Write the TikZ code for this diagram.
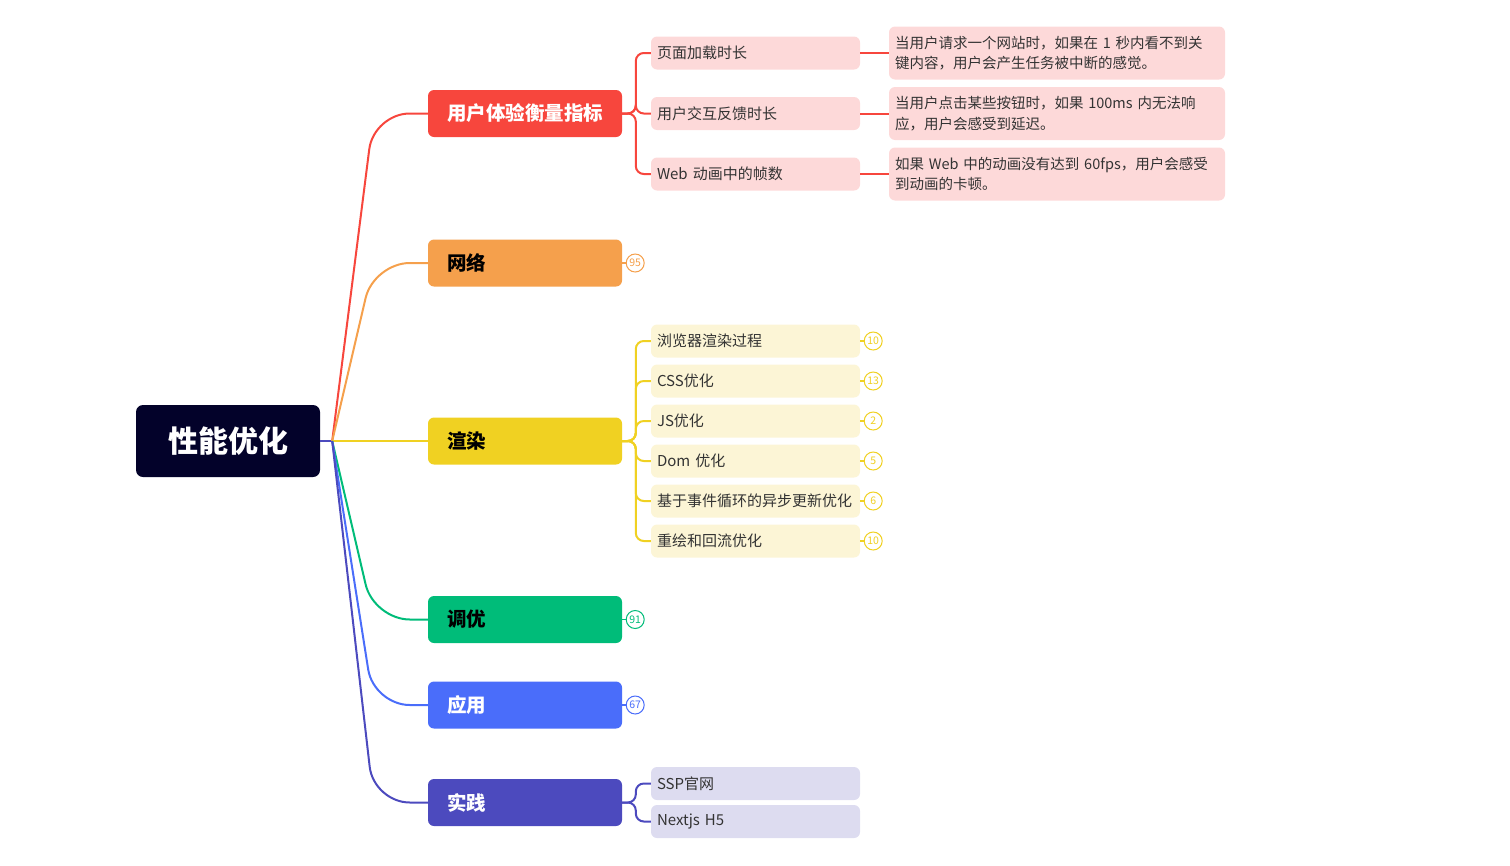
\documentclass[tikz,border=0pt]{standalone}
\usepackage{fontspec}
\setmainfont{Noto Sans CJK SC}
\definecolor{rootc}{HTML}{03022A}
\definecolor{redc}{HTML}{F7463D}
\definecolor{orangec}{HTML}{F5A04C}
\definecolor{yellowc}{HTML}{F0D122}
\definecolor{greenc}{HTML}{00BC79}
\definecolor{bluec}{HTML}{4A6DFA}
\definecolor{indigoc}{HTML}{4C4ABE}
\definecolor{redsub}{HTML}{FDD9D9}
\definecolor{yellowsub}{HTML}{FCF5D6}
\definecolor{indigosub}{HTML}{DDDCF0}
\definecolor{subtext}{HTML}{333333}
\tikzset{
  rootbox/.style={fill=rootc, rounded corners=7pt, minimum width=184pt, minimum height=72pt, text=white, font=\fontsize{30}{34}\selectfont\bfseries, inner sep=0pt},
  branchbox/.style={rounded corners=6pt, minimum height=47pt, text width=156pt, inner xsep=19pt, inner ysep=0pt, align=left, font=\fontsize{19.5}{22}\selectfont\bfseries},
  subbox/.style={rounded corners=6pt, minimum height=33pt, text width=197pt, inner xsep=6pt, inner ysep=0pt, align=left, text=subtext, font=\fontsize{15}{17}\selectfont},
  detailbox/.style={rounded corners=6pt, fill=redsub, minimum height=53pt, text width=324pt, inner xsep=6pt, inner ysep=0pt, align=left, text=subtext, font=\fontsize{14.5}{20.5}\selectfont},
  countc/.style={circle, draw, line width=1pt, fill=white, minimum size=18pt, inner sep=0pt, font=\fontsize{10.5}{11}\selectfont},
  conn/.style={line width=2pt},
  curvelink/.style={conn, rounded corners=36pt},
  bracket/.style={conn, rounded corners=8pt}
}
\begin{document}
\begin{tikzpicture}[x=1pt,y=-1pt]
\useasboundingbox (0,0) rectangle (1510,865);
% root
\node[rootbox] (root) at (228,441) {性能优化};
\coordinate (fan) at ([xshift=12pt]root.east);
% branches
\node[branchbox, fill=redc, text=white] (b1) at (525,113.5) {用户体验衡量指标};
\node[branchbox, fill=orangec, text=black] (b2) at (525,263) {网络};
\node[branchbox, fill=yellowc, text=black] (b3) at (525,441) {渲染};
\node[branchbox, fill=greenc, text=black] (b4) at (525,619.5) {调优};
\node[branchbox, fill=bluec, text=white] (b5) at (525,705) {应用};
\node[branchbox, fill=indigoc, text=white] (b6) at (525,802.5) {实践};
% root connectors
\draw[conn, indigoc] (root.east) -- (fan);
\draw[curvelink, redc] (fan) -- ([xshift=-54pt]b1.west) -- (b1.west);
\draw[curvelink, orangec] (fan) -- ([xshift=-54pt]b2.west) -- (b2.west);
\draw[conn, yellowc] (fan) -- (b3.west);
\draw[curvelink, greenc] (fan) -- ([xshift=-54pt]b4.west) -- (b4.west);
\draw[curvelink, bluec] (fan) -- ([xshift=-54pt]b5.west) -- (b5.west);
\draw[curvelink, indigoc] (fan) -- ([xshift=-54pt]b6.west) -- (b6.west);
% user experience subtopics
\node[subbox, fill=redsub] (s11) at (755.5,53) {页面加载时长};
\node[subbox, fill=redsub] (s12) at (755.5,113.5) {用户交互反馈时长};
\node[subbox, fill=redsub] (s13) at (755.5,174) {Web 动画中的帧数};
\foreach \s in {s11,s12,s13}{
  \draw[bracket, redc] (b1.east) -| ([xshift=-15pt]\s.west) -- (\s.west);
}
\node[detailbox] (d11) at (1057,53) {当用户请求一个网站时，如果在 1 秒内看不到关\\键内容，用户会产生任务被中断的感觉。};
\node[detailbox] (d12) at (1057,113.5) {当用户点击某些按钮时，如果 100ms 内无法响\\应，用户会感受到延迟。};
\node[detailbox] (d13) at (1057,174) {如果 Web 中的动画没有达到 60fps，用户会感受\\到动画的卡顿。};
\draw[conn, redc] (s11.east) -- (d11.west);
\draw[conn, redc] (s12.east) -- (d12.west);
\draw[conn, redc] (s13.east) -- (d13.west);
% network count
\node[countc, draw=orangec, text=orangec] (n2) at ([xshift=13pt]b2.east) {95};
\draw[orangec, line width=1.2pt] (b2.east) -- (n2);
% render subtopics
\node[subbox, fill=yellowsub] (s31) at (755.5,341) {浏览器渲染过程};
\node[subbox, fill=yellowsub] (s32) at (755.5,381) {CSS优化};
\node[subbox, fill=yellowsub] (s33) at (755.5,421) {JS优化};
\node[subbox, fill=yellowsub] (s34) at (755.5,461) {Dom 优化};
\node[subbox, fill=yellowsub] (s35) at (755.5,501) {基于事件循环的异步更新优化};
\node[subbox, fill=yellowsub] (s36) at (755.5,541) {重绘和回流优化};
\foreach \s/\n in {s31/10,s32/13,s33/2,s34/5,s35/6,s36/10}{
  \draw[bracket, yellowc] (b3.east) -| ([xshift=-15pt]\s.west) -- (\s.west);
  \node[countc, draw=yellowc, text=yellowc] (c\s) at ([xshift=13pt]\s.east) {\n};
  \draw[yellowc, line width=1.2pt] (\s.east) -- (c\s);
}
% tuning / application counts
\node[countc, draw=greenc, text=greenc] (n4) at ([xshift=13pt]b4.east) {91};
\draw[greenc, line width=1.2pt] (b4.east) -- (n4);
\node[countc, draw=bluec, text=bluec] (n5) at ([xshift=13pt]b5.east) {67};
\draw[bluec, line width=1.2pt] (b5.east) -- (n5);
% practice subtopics
\node[subbox, fill=indigosub] (s61) at (755.5,783.5) {SSP官网};
\node[subbox, fill=indigosub] (s62) at (755.5,821.5) {Nextjs H5};
\foreach \s in {s61,s62}{
  \draw[bracket, indigoc] (b6.east) -| ([xshift=-15pt]\s.west) -- (\s.west);
}
\end{tikzpicture}
\end{document}
